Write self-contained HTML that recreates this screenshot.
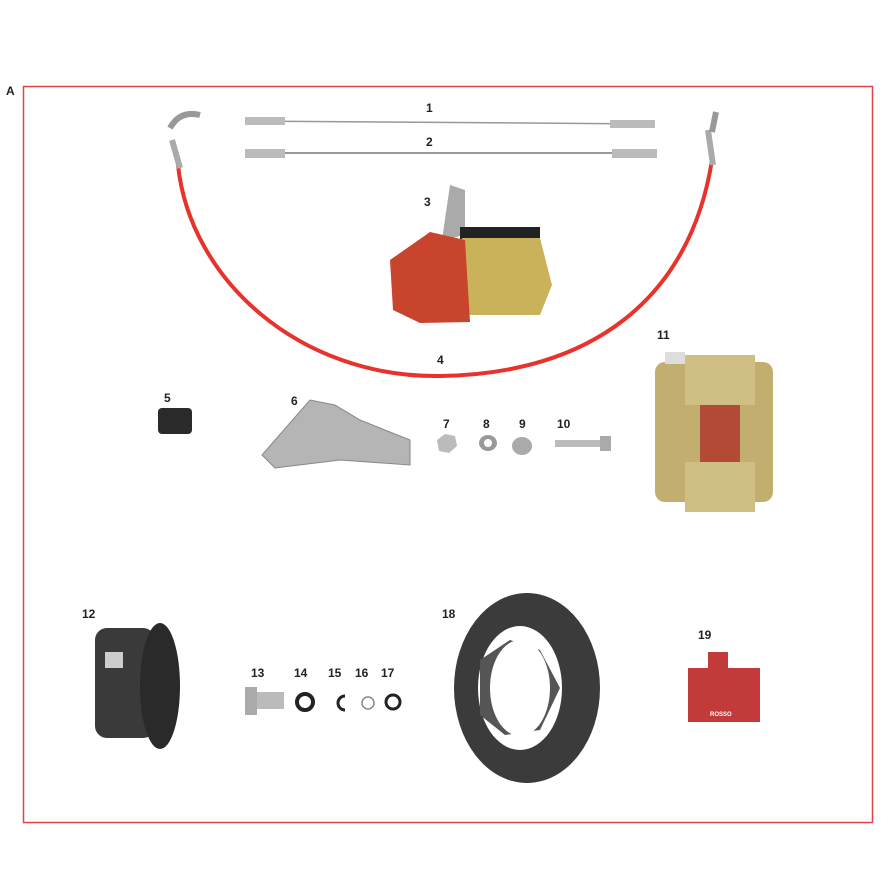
<!DOCTYPE html>
<html><head><style>body{margin:0;background:#fff}svg{display:block}text{font-family:"Liberation Sans",sans-serif;font-weight:bold;font-size:12px;fill:#222}</style></head><body>
<svg width="885" height="885" viewBox="0 0 885 885">
<rect x="23.5" y="86.5" width="849" height="736" fill="none" stroke="#e0454a" stroke-width="1.5"/>
<text x="6" y="95">A</text>
<!-- hose 4 -->
<path d="M178,165 C190,280 300,378 440,376 C590,374 690,300 712,160" fill="none" stroke="#e8322c" stroke-width="4"/>
<path d="M172,140 L180,168 M708,130 L713,165" stroke="#aaa" stroke-width="6"/>
<path d="M170,128 Q180,110 200,115" stroke="#999" stroke-width="6" fill="none"/>
<path d="M716,112 L712,132" stroke="#999" stroke-width="6"/>
<!-- cables -->
<line x1="245" y1="121" x2="655" y2="124" stroke="#999" stroke-width="1.5"/>
<rect x="245" y="117" width="40" height="8" fill="#bbb"/><rect x="610" y="120" width="45" height="8" fill="#bbb"/>
<line x1="245" y1="153" x2="655" y2="153" stroke="#999" stroke-width="2"/>
<rect x="245" y="149" width="40" height="9" fill="#bbb"/><rect x="612" y="149" width="45" height="9" fill="#bbb"/>
<text x="426" y="112">1</text><text x="426" y="146">2</text>
<!-- master cylinder 3 -->
<text x="424" y="206">3</text>
<polygon points="450,185 465,190 465,235 442,240" fill="#aaa"/>
<rect x="460" y="227" width="80" height="12" fill="#222"/>
<path d="M462,238 L540,238 L552,285 L540,315 L462,315 Z" fill="#c9b25a"/>
<path d="M390,260 L430,232 L465,240 L470,322 L420,323 L393,310 Z" fill="#c9442c"/>
<text x="437" y="364">4</text>
<!-- 5 -->
<text x="164" y="402">5</text>
<rect x="158" y="408" width="34" height="26" rx="4" fill="#2a2a2a"/>
<!-- 6 -->
<text x="291" y="405">6</text>
<path d="M262,455 L310,400 L335,405 L360,420 L410,440 L410,465 L340,460 L275,468 Z" fill="#b5b5b5" stroke="#888"/>
<!-- 7-10 -->
<text x="443" y="428">7</text><text x="483" y="428">8</text><text x="519" y="428">9</text><text x="557" y="428">10</text>
<polygon points="437,440 445,434 455,436 457,446 449,453 439,451" fill="#bbb"/>
<ellipse cx="488" cy="443" rx="9" ry="8" fill="#999"/><ellipse cx="488" cy="443" rx="4" ry="4" fill="#fff"/>
<ellipse cx="522" cy="446" rx="10" ry="9" fill="#aaa"/>
<rect x="555" y="440" width="50" height="7" fill="#bbb"/><rect x="600" y="436" width="11" height="15" fill="#aaa"/>
<!-- caliper 11 -->
<text x="657" y="339">11</text>
<rect x="655" y="362" width="118" height="140" rx="10" fill="#c2ae6e"/>
<rect x="685" y="355" width="70" height="50" fill="#d0bf85"/>
<rect x="685" y="462" width="70" height="50" fill="#d0bf85"/>
<rect x="700" y="405" width="40" height="57" fill="#b34a35"/>
<rect x="665" y="352" width="20" height="12" fill="#ddd"/>
<!-- 12 -->
<text x="82" y="618">12</text>
<rect x="95" y="628" width="60" height="110" rx="12" fill="#3a3a3a"/>
<ellipse cx="160" cy="686" rx="20" ry="63" fill="#2a2a2a"/>
<rect x="105" y="652" width="18" height="16" fill="#ccc"/>
<!-- 13-17 -->
<text x="251" y="677">13</text><text x="294" y="677">14</text><text x="328" y="677">15</text><text x="355" y="677">16</text><text x="381" y="677">17</text>
<rect x="245" y="687" width="12" height="28" fill="#aaa"/><rect x="257" y="692" width="27" height="17" fill="#bbb"/>
<circle cx="305" cy="702" r="8" fill="none" stroke="#222" stroke-width="4"/>
<path d="M345,696 A7,7 0 1,0 345,710" fill="none" stroke="#222" stroke-width="3"/>
<circle cx="368" cy="703" r="6" fill="none" stroke="#888" stroke-width="1.5"/>
<circle cx="393" cy="702" r="7" fill="none" stroke="#222" stroke-width="3"/>
<!-- disc 18 -->
<text x="442" y="618">18</text>
<ellipse cx="527" cy="688" rx="73" ry="95" fill="#3b3b3b"/>
<ellipse cx="520" cy="688" rx="42" ry="62" fill="#fff"/>
<path d="M480,660 L510,640 L540,650 L560,688 L540,730 L505,735 L480,715 Z" fill="#555"/>
<ellipse cx="520" cy="688" rx="30" ry="48" fill="#fff"/>
<!-- pad 19 -->
<text x="698" y="639">19</text>
<path d="M688,668 L708,668 L708,652 L728,652 L728,668 L760,668 L760,722 L688,722 Z" fill="#c23a3a"/>
<text x="710" y="716" style="font-size:6px;fill:#fff">ROSSO</text>
</svg>
</body></html>
